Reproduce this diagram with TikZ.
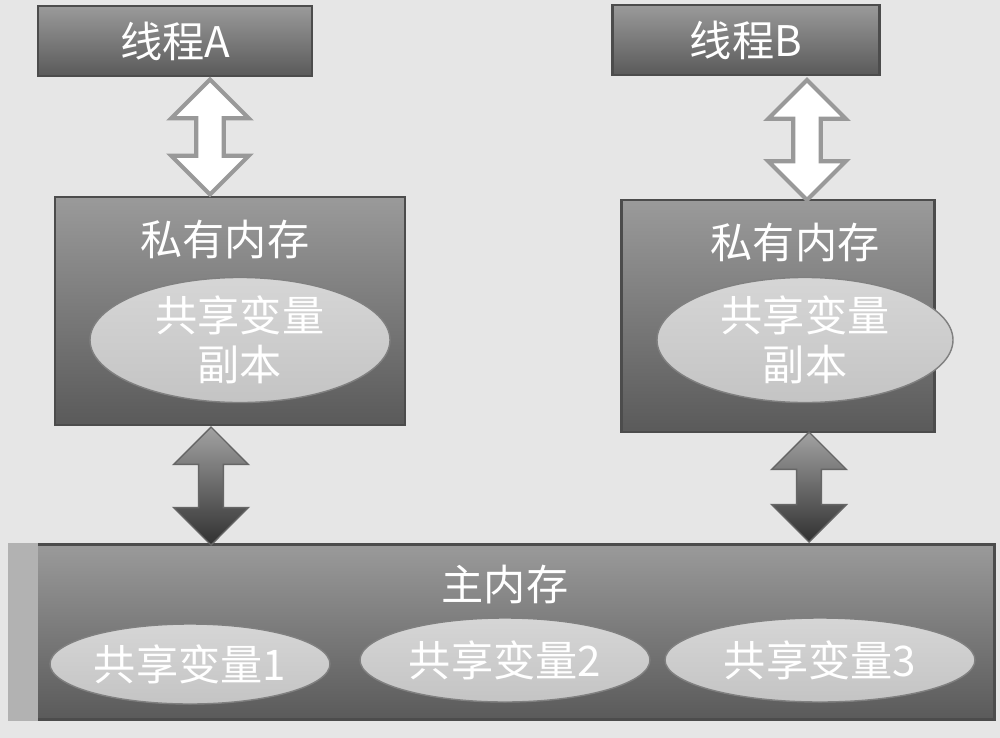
\documentclass[tikz,border=0pt]{standalone}
\usepackage{fontspec}
\setmainfont{Noto Sans CJK SC}
\usetikzlibrary{shapes.arrows,shapes.geometric}
\definecolor{bgray}{HTML}{E6E6E6}
\definecolor{boxtop}{HTML}{9A9A9A}
\definecolor{boxbot}{HTML}{5A5A5A}
\definecolor{ellgray}{HTML}{C4C4C4}
\definecolor{arrowgray}{HTML}{7A7A7A}

\begin{document}
\begin{tikzpicture}[x=0.1mm,y=-0.1mm]
    \tikzset{membox/.style = {draw=black!70, top color=boxtop, bottom color=boxbot, line width=0.8pt}}
    \tikzset{thread/.style = {membox, minimum height=7mm, text=white, font=\large}}
    \tikzset{copyell/.style = {shape=ellipse, draw=black!50, top color=ellgray!70, bottom color=ellgray, text=white, font=\large, align=center, inner sep=0pt}}
    \tikzset{hollow/.style = {shape=double arrow, rotate=90, draw=black!40, fill=white, line width=1.2pt, double arrow head extend=2.5mm, minimum width=4mm}}
    \tikzset{solid/.style = {shape=double arrow, rotate=90, draw=black!60, top color=arrowgray!70, bottom color=arrowgray!40!black, double arrow head extend=2.5mm, minimum width=4mm}}

    % background
    \fill[bgray] (0,0) rectangle (1000,738);

    % threads
    \node[thread, minimum width=27.4mm] (ta) at (175,41) {线程A};
    \node[thread, minimum width=26.7mm] (tb) at (746,40) {线程B};

    % private memories
    \node[membox, minimum width=35mm, minimum height=22.8mm] (pa) at (230,311) {};
    \node[membox, minimum width=31.3mm, minimum height=23.2mm] (pb) at (778,316) {};
    \node[text=white, font=\large] (pat) at (225,240) {私有内存};
    \node[text=white, font=\large] (pbt) at (795,243) {私有内存};
    \node[copyell, minimum width=30mm, minimum height=11mm] (ca) at (240,340) {共享变量\\副本};
    \node[copyell, minimum width=29.6mm, minimum height=11mm] (cb) at (805,340) {共享变量\\副本};

    % main memory
    \node[membox, minimum width=98.5mm, minimum height=17.5mm] (mm) at (502,632) {};
    \fill[black!30] (mm.north west) rectangle ([xshift=3mm]mm.south west);
    \node[text=white, font=\large] (mmt) at (505,585) {主内存};
    \node[copyell, minimum width=28mm, minimum height=8mm] (v1) at (190,664) {共享变量1};
    \node[copyell, minimum width=29mm, minimum height=8.4mm] (v2) at (505,660) {共享变量2};
    \node[copyell, minimum width=31mm, minimum height=8.4mm] (v3) at (820,660) {共享变量3};

    % arrows
    \node[hollow, minimum height=11.5mm] (ha) at (210,137) {};
    \node[hollow, minimum height=12mm] (hb) at (807,140) {};
    \node[solid, minimum height=11.8mm] (sa) at (211,486) {};
    \node[solid, minimum height=11mm] (sb) at (809,487) {};
\end{tikzpicture}
\end{document}
